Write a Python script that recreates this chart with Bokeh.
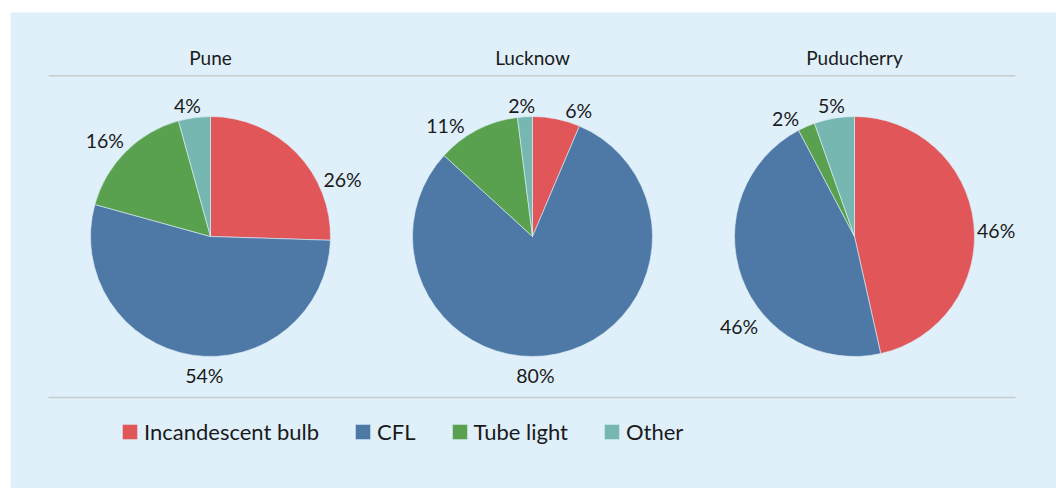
import math
from bokeh.plotting import figure
from bokeh.models import ColumnDataSource, Range1d, Legend, LegendItem
from bokeh.core.properties import value
from bokeh.embed import file_html
from bokeh.resources import INLINE

# ---------------- data ----------------
cities = ["Pune", "Lucknow", "Puducherry"]
categories = ["Incandescent bulb", "CFL", "Tube light", "Other"]
pune = [25.5, 53.8, 16.4, 4.3]
lucknow = [6.4, 80.4, 11.2, 2.0]
puducherry = [46.4, 45.7, 2.3, 5.4]
shares = [pune, lucknow, puducherry]

# ---------------- style / layout ----------------
colors = ["#e15759", "#4e79a7", "#59a14f", "#76b7b2"]
BG = "#dff0fa"
TXT = "#1a1a1a"
FONT = "Lato"
FRAME_W, FRAME_H = 1046, 476
R = 120
PIE_X0, PIE_DX, PIE_Y = 200, 322, 252
TITLE_Y = 431.5
LINE_TOP_Y, LINE_BOT_Y = 412.7, 91
LINE_X0, LINE_X1 = 38, 1005
LABEL_FS = 19.5
# small angular nudges (degrees) for label placement, per pie / per slice
label_nudge = [[20, -6, -2, -2], [8, 11, -10, -1], [5, -17, -6, 0]]

p = figure(frame_width=FRAME_W, frame_height=FRAME_H,
           x_range=Range1d(0, FRAME_W), y_range=Range1d(0, FRAME_H),
           x_axis_type=None, y_axis_type=None,
           min_border_left=10, min_border_top=12, min_border_right=0, min_border_bottom=0,
           output_backend="svg", toolbar_location=None,
           background_fill_color=BG, border_fill_color="white",
           outline_line_color=None)
p.grid.visible = False

centers_x = [PIE_X0 + i * PIE_DX for i in range(len(cities))]

# wedges: one renderer per category across all pies
renderers = []
for k, cat in enumerate(categories):
    xs, ys, st, en = [], [], [], []
    for i, vals in enumerate(shares):
        tot = sum(vals)
        a = sum(vals[:k]) / tot
        b = sum(vals[:k + 1]) / tot
        xs.append(centers_x[i])
        ys.append(PIE_Y)
        st.append(math.pi / 2 - 2 * math.pi * b)
        en.append(math.pi / 2 - 2 * math.pi * a)
    src = ColumnDataSource(dict(x=xs, y=ys, start=st, end=en))
    r = p.wedge(x="x", y="y", radius=R, start_angle="start", end_angle="end",
                source=src, fill_color=colors[k], line_color=BG, line_width=0.6)
    renderers.append(r)

# percentage labels
lx, ly, lt = [], [], []
for i, vals in enumerate(shares):
    tot = sum(vals)
    for k, v in enumerate(vals):
        a = sum(vals[:k]) / tot
        b = sum(vals[:k + 1]) / tot
        theta = 2 * math.pi * (a + b) / 2 + math.radians(label_nudge[i][k])
        ux, uy = math.sin(theta), math.cos(theta)
        txt = f"{round(v)}%"
        w = 0.58 * LABEL_FS * (len(txt) - 1) + 0.83 * LABEL_FS
        d = R + 2 + (w / 2) * abs(ux) + 12.3 * abs(uy)
        lx.append(centers_x[i] + d * ux)
        ly.append(PIE_Y + d * uy - 4 * abs(uy) + (3 if abs(ux) > 0.95 else 0))
        lt.append(txt)
p.text(x=lx, y=ly, text=lt, text_align="center", text_baseline="middle",
       text_font=value(FONT), text_font_size=f"{LABEL_FS}px", text_color=TXT)

# titles
p.text(x=centers_x, y=[TITLE_Y] * len(cities), text=cities, text_align="center",
       text_baseline="middle", text_font=value(FONT), text_font_size="19px",
       text_color=TXT)

# separator lines
p.segment(x0=[LINE_X0, LINE_X0], y0=[LINE_TOP_Y, LINE_BOT_Y],
          x1=[LINE_X1, LINE_X1], y1=[LINE_TOP_Y, LINE_BOT_Y],
          line_color="#c6cbce", line_width=1.5)

legend = Legend(items=[LegendItem(label=c, renderers=[r]) for c, r in zip(categories, renderers)],
                orientation="horizontal", location=(110, 43),
                glyph_width=19, glyph_height=19, label_standoff=5, spacing=34,
                padding=0, margin=0, border_line_color=None, background_fill_alpha=0,
                label_text_font=FONT, label_text_font_size="22px", label_text_color=TXT)
p.add_layout(legend)

open("out.html", "w").write(file_html(p, INLINE))
